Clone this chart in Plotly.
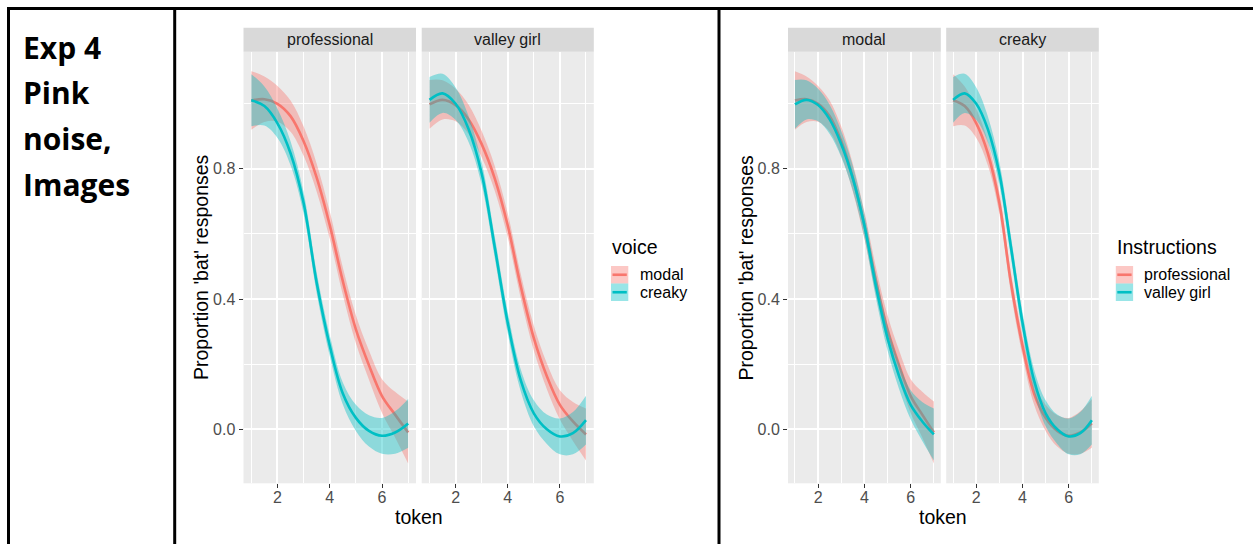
import plotly.graph_objects as go

# ---------------- data ----------------
tokens = [1, 1.5, 2, 2.5, 3, 3.5, 4, 4.5, 5, 5.5, 6, 6.5, 7]

# fitted proportion of 'bat' responses per instruction x voice
prof_modal = [1.010, 1.014, 1.000, 0.962, 0.885, 0.773, 0.627, 0.455, 0.307, 0.197, 0.102, 0.045, -0.010]
prof_modal_ci = [0.090, 0.070, 0.055, 0.048, 0.045, 0.043, 0.042, 0.042, 0.043, 0.045, 0.052, 0.070, 0.095]

vg_modal = [0.998, 1.012, 0.996, 0.952, 0.876, 0.771, 0.626, 0.439, 0.280, 0.163, 0.075, 0.024, -0.016]
vg_modal_ci = [0.075, 0.060, 0.050, 0.045, 0.040, 0.038, 0.037, 0.037, 0.038, 0.040, 0.045, 0.060, 0.080]

prof_creaky = [1.011, 0.993, 0.940, 0.848, 0.695, 0.450, 0.257, 0.110, 0.035, -0.005, -0.020, -0.010, 0.018]
prof_creaky_ci = [0.080, 0.060, 0.045, 0.037, 0.033, 0.032, 0.032, 0.034, 0.040, 0.048, 0.055, 0.065, 0.075]

vg_creaky = [1.012, 1.032, 1.000, 0.922, 0.786, 0.560, 0.327, 0.150, 0.049, 0.000, -0.022, -0.012, 0.028]
vg_creaky_ci = [0.070, 0.060, 0.050, 0.040, 0.035, 0.033, 0.033, 0.034, 0.040, 0.045, 0.055, 0.065, 0.075]

voices = ["modal", "creaky"]
instructions = ["professional", "valley girl"]
x_ticks = [2, 4, 6]
y_ticks = [0.0, 0.4, 0.8]
y_ticktext = ["0.0", "0.4", "0.8"]
exp_label = ["Exp 4", "Pink", "noise,", "Images"]

# ---------------- styling ----------------
W, H = 1253, 544
RED, TEAL = "#F8766D", "#00BFC4"
RED_FILL, TEAL_FILL = "rgba(248,118,109,0.4)", "rgba(0,191,196,0.4)"
FONT = "Liberation Sans, Arial, sans-serif"
TICK_COL = "#4D4D4D"


def fx(p):
    return p / W


def fy(p):
    return 1 - p / H


PANEL_TOP, PANEL_BOT = 51.7, 483.3
STRIP_TOP = 27.7
XR = [0.7, 7.3]
YR = [-0.166, 1.160]

panels = [
    # (x pixel span, strip label, [(mean, ci, line colour, fill colour)], show y labels)
    ((243.5, 416.0), instructions[0], [(prof_modal, prof_modal_ci, RED, RED_FILL),
                                        (prof_creaky, prof_creaky_ci, TEAL, TEAL_FILL)], True),
    ((421.7, 593.8), instructions[1], [(vg_modal, vg_modal_ci, RED, RED_FILL),
                                        (vg_creaky, vg_creaky_ci, TEAL, TEAL_FILL)], False),
    ((788.0, 940.8), voices[0], [(prof_modal, prof_modal_ci, RED, RED_FILL),
                                  (vg_modal, vg_modal_ci, TEAL, TEAL_FILL)], True),
    ((946.2, 1098.8), voices[1], [(prof_creaky, prof_creaky_ci, RED, RED_FILL),
                                   (vg_creaky, vg_creaky_ci, TEAL, TEAL_FILL)], False),
]

fig = go.Figure()
shapes = []
annotations = []
layout_axes = {}

for i, (span, label, series, show_y) in enumerate(panels, start=1):
    xa = "x" if i == 1 else f"x{i}"
    ya = "y" if i == 1 else f"y{i}"
    for mean, ci, col, fill in series:
        lo = [m - c for m, c in zip(mean, ci)]
        hi = [m + c for m, c in zip(mean, ci)]
        fig.add_trace(go.Scatter(x=tokens, y=lo, xaxis=xa, yaxis=ya, mode="lines",
                                 line=dict(width=0, shape="spline", color=fill),
                                 showlegend=False, hoverinfo="skip"))
        fig.add_trace(go.Scatter(x=tokens, y=hi, xaxis=xa, yaxis=ya, mode="lines",
                                 line=dict(width=0, shape="spline", color=fill),
                                 fill="tonexty", fillcolor=fill,
                                 showlegend=False, hoverinfo="skip"))
        fig.add_trace(go.Scatter(x=tokens, y=mean, xaxis=xa, yaxis=ya, mode="lines",
                                 line=dict(width=2.6, shape="spline", color=col),
                                 showlegend=False))
    key = "" if i == 1 else str(i)
    layout_axes[f"xaxis{key}"] = dict(
        domain=[fx(span[0]), fx(span[1])], range=XR, anchor=ya,
        tickmode="array", tickvals=x_ticks, ticktext=[str(t) for t in x_ticks],
        ticks="outside", ticklen=4, tickwidth=1, tickcolor="#333333",
        ticklabelstandoff=-5,
        tickfont=dict(family=FONT, size=16, color=TICK_COL),
        showgrid=True, gridcolor="white", gridwidth=1.6,
        minor=dict(tickvals=[1, 3, 5, 7], showgrid=True, gridcolor="white", gridwidth=0.8, ticks=""),
        zeroline=False, showline=False, fixedrange=True)
    layout_axes[f"yaxis{key}"] = dict(
        domain=[fy(PANEL_BOT), fy(PANEL_TOP)], range=YR, anchor=xa,
        tickmode="array", tickvals=y_ticks, ticktext=y_ticktext,
        showticklabels=show_y, ticks="outside" if show_y else "",
        ticklen=4, tickwidth=1, tickcolor="#333333",
        tickfont=dict(family=FONT, size=16, color=TICK_COL),
        showgrid=True, gridcolor="white", gridwidth=1.6,
        minor=dict(tickvals=[0.2, 0.6, 1.0], showgrid=True, gridcolor="white", gridwidth=0.8, ticks=""),
        zeroline=False, showline=False, fixedrange=True)
    # strip
    shapes.append(dict(type="rect", xref="paper", yref="paper",
                       x0=fx(span[0]), x1=fx(span[1]), y0=fy(PANEL_TOP), y1=fy(STRIP_TOP),
                       fillcolor="#D9D9D9", line=dict(width=0), layer="below"))
    annotations.append(dict(x=fx((span[0] + span[1]) / 2), y=fy((STRIP_TOP + PANEL_TOP) / 2),
                            xref="paper", yref="paper", text=label, showarrow=False,
                            xanchor="center", yanchor="middle",
                            font=dict(family=FONT, size=16, color="#1A1A1A")))

# axis titles
for cx, ytx in [((243.5 + 593.8) / 2, 200.5), ((788.0 + 1098.8) / 2, 745.0)]:
    annotations.append(dict(x=fx(cx), y=fy(516.7), xref="paper", yref="paper", text="token",
                            showarrow=False, xanchor="center", yanchor="middle",
                            font=dict(family=FONT, size=19.5, color="black")))
    annotations.append(dict(x=fx(ytx), y=fy((PANEL_TOP + PANEL_BOT) / 2), xref="paper", yref="paper",
                            text="Proportion 'bat' responses", textangle=-90, showarrow=False,
                            xanchor="center", yanchor="middle",
                            font=dict(family=FONT, size=19.5, color="black")))

# legends
legends = [(611.0, "voice", voices), (1115.8, "Instructions", instructions)]
for lx, title, labels in legends:
    annotations.append(dict(x=fx(lx - 1), y=fy(246.7), xref="paper", yref="paper", text=title,
                            showarrow=False, xanchor="left", yanchor="middle",
                            font=dict(family=FONT, size=19.5, color="black")))
    for j, (lab, col, fill) in enumerate(zip(labels, [RED, TEAL], [RED_FILL, TEAL_FILL])):
        y0 = 266.0 + j * 17.5
        y1 = y0 + 17.5
        shapes.append(dict(type="rect", xref="paper", yref="paper",
                           x0=fx(lx), x1=fx(lx + 17.3), y0=fy(y1), y1=fy(y0),
                           fillcolor=fill, line=dict(width=0)))
        shapes.append(dict(type="line", xref="paper", yref="paper",
                           x0=fx(lx + 1.5), x1=fx(lx + 15.8), y0=fy((y0 + y1) / 2), y1=fy((y0 + y1) / 2),
                           line=dict(color=col, width=2.6)))
        annotations.append(dict(x=fx(lx + 26.5), y=fy((y0 + y1) / 2), xref="paper", yref="paper",
                                text=lab, showarrow=False, xanchor="left", yanchor="middle",
                                font=dict(family=FONT, size=16, color="black")))

# left cell text
for k, line in enumerate(exp_label):
    annotations.append(dict(x=fx(21), y=fy(47.0 + k * 45.7), xref="paper", yref="paper",
                            text=f"<b>{line}</b>", showarrow=False, xanchor="left", yanchor="middle",
                            font=dict(family="Open Sans, sans-serif", size=30, color="black")))

# table borders
border = dict(color="black", width=3)
shapes += [
    dict(type="line", xref="paper", yref="paper", x0=fx(7), x1=1, y0=fy(8.5), y1=fy(8.5), line=border),
    dict(type="line", xref="paper", yref="paper", x0=fx(8.5), x1=fx(8.5), y0=fy(7), y1=0, line=border),
    dict(type="line", xref="paper", yref="paper", x0=fx(174.7), x1=fx(174.7), y0=fy(7), y1=0, line=border),
    dict(type="line", xref="paper", yref="paper", x0=fx(719), x1=fx(719), y0=fy(7), y1=0, line=border),
]

fig.update_layout(width=W, height=H, autosize=False,
                  margin=dict(l=0, r=0, t=0, b=0),
                  paper_bgcolor="white", plot_bgcolor="#EBEBEB",
                  showlegend=False, shapes=shapes, annotations=annotations,
                  **layout_axes)

fig.write_html("out.html", config={"displayModeBar": False})
